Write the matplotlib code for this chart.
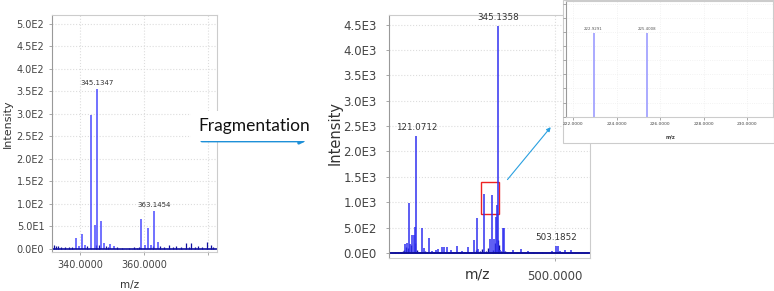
import matplotlib.pyplot as plt
import numpy as np
from matplotlib.ticker import FuncFormatter
from matplotlib.patches import Rectangle

# ---- precursor spectrum (left) ----
pre_mz = [338.5, 339.4, 340.5, 341.3, 343.3, 344.4, 345.1347, 346.3, 347.3,
          349.3, 350.4, 359.0, 360.1, 361.1, 362.0, 363.1454, 364.1]
pre_int = [25, 7, 34, 9, 297, 52, 355, 63, 14, 10, 7, 66, 9, 46, 9, 84, 16]
pre_noise_mz = [331.8, 332.4, 333.1, 334.0, 335.2, 336.5, 337.4, 342.0, 344.9,
                345.8, 347.9, 348.6, 351.5, 353.0, 355.2, 356.6, 357.8, 358.4,
                362.6, 365.0, 366.1, 367.7, 369.0, 370.0, 371.4, 372.9, 374.0,
                374.7, 375.8, 376.8, 378.1, 379.7, 380.7, 381.6]
pre_noise_int = [8, 7, 6, 5, 4, 4, 5, 6, 8, 9, 6, 5, 4, 3, 3, 4, 3, 5,
                 6, 7, 5, 8, 4, 6, 5, 12, 5, 12, 4, 6, 5, 15, 8, 4]
pre_labels = [345.1347, 363.1454]

# ---- fragment spectrum (middle) ----
frag_mz = [91.2, 95.6, 101.0, 104.8, 110.2, 113.7, 118.4, 121.0712, 137.3, 141.7,
           154.4, 163.4, 175.3, 180.8, 191.6, 197.8, 204.1, 216.0, 233.1, 245.9,
           261.1, 279.5, 286.6, 290.0, 304.7, 322.8, 327.3, 333.5, 339.0, 342.6,
           345.1358, 349.7, 358.7, 361.4, 385.9, 406.0, 426.8, 493.0, 503.1852,
           507.4, 513.0, 528.5, 542.9]
frag_int = [185, 190, 975, 185, 350, 350, 515, 2300, 495, 90,
            300, 45, 60, 75, 110, 110, 125, 60, 130, 30,
            120, 255, 695, 80, 1160, 280, 1150, 270, 705, 940,
            4470, 60, 485, 485, 60, 85, 30, 30, 140,
            135, 40, 60, 60]
frag_noise_mz = [62, 70, 76, 80, 84, 88, 93, 98, 107, 116, 124, 130, 146, 150,
                 170, 186, 210, 222, 240, 252, 270, 283, 296, 301, 312, 318,
                 330, 336, 344, 347, 352, 364, 370, 395, 440, 465, 520, 535]
frag_noise_int = [10, 15, 20, 25, 40, 60, 120, 90, 150, 200, 60, 20, 30, 15,
                  20, 25, 15, 20, 15, 10, 20, 50, 30, 70, 40, 90,
                  60, 200, 250, 150, 40, 30, 20, 15, 10, 15, 20, 10]
frag_labels = [121.0712, 345.1358, 503.1852]

# ---- zoomed inset ----
ins_mz = [222.9291, 225.4008]
ins_int = [1180, 1180]

W, H = 774, 291
fig = plt.figure(figsize=(W / 100, H / 100), dpi=100)


def box(x0, y0, x1, y1):
    """pixel box (top-left origin) -> figure fraction rect"""
    return [x0 / W, 1 - y1 / H, (x1 - x0) / W, (y1 - y0) / H]


def sci(v, pos):
    if v == 0:
        return '0.0E0'
    e = int(np.floor(np.log10(abs(v)) + 1e-9))
    return f'{v / 10 ** e:.1f}E{e}'


def style(ax, fs, pad):
    for s in ['top', 'right']:
        ax.spines[s].set_color('#cccccc')
    ax.spines['left'].set_color('#999999')
    ax.spines['bottom'].set_color('#cccccc')
    ax.tick_params(colors='#999999', labelcolor='#444444', labelsize=fs,
                   length=2, width=0.6, pad=pad)
    ax.grid(True, color='#dddddd', linestyle=':', linewidth=0.8)
    ax.set_axisbelow(True)


# left panel
ax1 = fig.add_axes(box(52, 15, 217, 252))
ax1.vlines(pre_noise_mz, 0, pre_noise_int, color='#1010a0', lw=0.9)
ax1.vlines(pre_mz, 0, pre_int, color='#4a4aff', lw=1.1)
ax1.axhline(0, color='#1010a0', lw=1.2)
for m in pre_labels:
    h = pre_int[pre_mz.index(m)]
    ax1.annotate(f'{m:.4f}', (m, h), xytext=(0, 2), textcoords='offset points',
                 ha='center', va='bottom', fontsize=5, color='#333333')
ax1.set_xlim(331.1, 382.7)
ax1.set_ylim(-7, 520)
ax1.set_yticks(np.arange(0, 501, 50))
ax1.yaxis.set_major_formatter(FuncFormatter(sci))
ax1.set_xticks([340, 360, 380])
ax1.set_xticklabels(['340.0000', '360.0000', ''])
style(ax1, 7, 3.5)
fig.text(7.5 / W, 1 - 124 / H, 'Intensity', rotation=90, ha='center', va='center',
         fontsize=8, color='#333333')
fig.text(130 / W, 1 - 285 / H, 'm/z', ha='center', va='center', fontsize=7.5,
         color='#333333')

# middle panel
ax2 = fig.add_axes(box(389.3, 15, 590, 258))
ax2.vlines(frag_noise_mz, 0, frag_noise_int, color='#10109a', lw=1.0)
ax2.vlines(frag_mz, 0, frag_int, color='#3030f0', lw=1.1)
ax2.axhline(0, color='#10109a', lw=1.4)
for m in frag_labels:
    h = frag_int[frag_mz.index(m)]
    ax2.annotate(f'{m:.4f}', (m, h), xytext=(0, 3), textcoords='offset points',
                 ha='center', va='bottom', fontsize=6.3, color='#333333')
ax2.add_patch(Rectangle((296.5, 765), 51, 630, fill=False, edgecolor='#ee2222', lw=1))
ax2.set_xlim(47, 596)
ax2.set_ylim(-100, 4690)
ax2.set_yticks(np.arange(0, 4501, 500))
ax2.yaxis.set_major_formatter(FuncFormatter(sci))
ax2.set_xticks([500])
ax2.set_xticklabels(['500.0000'])
style(ax2, 8.5, 7)
fig.text(335 / W, 1 - 133 / H, 'Intensity', rotation=90, ha='center', va='center',
         fontsize=10.5, color='#333333')
fig.text(477 / W, 1 - 274 / H, 'm/z', ha='center', va='center', fontsize=10,
         color='#333333')

# arrow between panels
fig.text(254 / W, 1 - 126 / H, 'Fragmentation', ha='center', va='center',
         fontsize=12.5, family=['Lato', 'DejaVu Sans'], color='#111111',
         bbox=dict(facecolor='white', edgecolor='none', pad=5))
fig.add_artist(plt.matplotlib.patches.FancyArrowPatch(
    (199 / W, 1 - 141 / H), (309 / W, 1 - 141 / H), transform=fig.transFigure,
    arrowstyle='-|>', mutation_scale=8, color='#1e90d8', lw=2))
fig.add_artist(plt.matplotlib.patches.FancyArrowPatch(
    (505.7 / W, 1 - 181.7 / H), (552.5 / W, 1 - 125 / H), transform=fig.transFigure,
    arrowstyle='-|>', mutation_scale=6, color='#2aa0e0', lw=0.8))

# inset panel
fig.patches.append(Rectangle((563 / W, 1 - 143 / H), 211 / W, 143 / H,
                             transform=fig.transFigure, facecolor='white',
                             edgecolor='#cccccc', lw=0.8, zorder=1))
ax3 = fig.add_axes(box(566, 1, 773, 116.7), zorder=2)
ax3.vlines(ins_mz, 0, ins_int, color='#9c9cff', lw=1.2)
for m, h in zip(ins_mz, ins_int):
    ax3.annotate(f'{m:.4f}', (m, h), xytext=(0, 1.5), textcoords='offset points',
                 ha='center', va='bottom', fontsize=2.8, color='#555555')
ax3.set_xlim(221.66, 231.2)
ax3.set_ylim(0, 1640)
ax3.set_xticks([222, 224, 226, 228, 230])
ax3.set_xticklabels(['222.0000', '224.0000', '226.0000', '228.0000', '230.0000'])
ax3.set_yticks(np.arange(0, 1601, 200))
ax3.set_yticklabels([])
style(ax3, 3.2, 1.5)
ax3.grid(True, color='#eeeeee', linestyle=':', linewidth=0.6)
fig.text(670 / W, 1 - 137 / H, 'm/z', ha='center', va='center', fontsize=3.5,
         color='#444444', weight='bold')

fig.savefig('out.png', dpi=100)
